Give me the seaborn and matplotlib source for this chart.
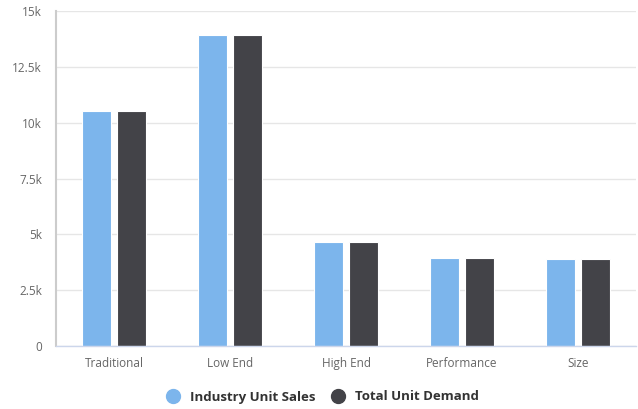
import matplotlib
matplotlib.use("Agg")
import matplotlib.pyplot as plt
import seaborn as sns
import pandas as pd
from matplotlib.lines import Line2D

categories = ["Traditional", "Low End", "High End", "Performance", "Size"]
industry_unit_sales = [10520, 13920, 4640, 3930, 3890]
total_unit_demand = [10520, 13920, 4640, 3930, 3890]
series_names = ["Industry Unit Sales", "Total Unit Demand"]
y_ticks = [0, 2500, 5000, 7500, 10000, 12500, 15000]
y_tick_labels = ["0", "2.5k", "5k", "7.5k", "10k", "12.5k", "15k"]

df = pd.DataFrame({
    "category": categories * 2,
    "value": industry_unit_sales + total_unit_demand,
    "series": [series_names[0]] * len(categories) + [series_names[1]] * len(categories),
})

sns.set_style("white")
plt.rcParams["font.family"] = ["Open Sans", "DejaVu Sans"]

colors = ["#7cb5ec", "#434348"]
fig = plt.figure(figsize=(6.38, 4.09), dpi=100)
ax = fig.add_axes([56 / 638, (409 - 346) / 409, (636 - 56) / 638, (346 - 11) / 409])

sns.barplot(data=df, x="category", y="value", hue="series", palette=colors,
            width=0.6, gap=0.15, ax=ax, legend=False, edgecolor="white", linewidth=0.8,
            saturation=1)

ax.set_xlim(-0.5, len(categories) - 0.5)
ax.set_ylim(0, 15000)
ax.set_yticks(y_ticks)
ax.set_yticklabels(y_tick_labels)
ax.set_xlabel("")
ax.set_ylabel("")
ax.grid(axis="y", color="#e6e6e6", linewidth=1)
ax.set_axisbelow(True)

for s in ["top", "right"]:
    ax.spines[s].set_visible(False)
ax.spines["left"].set_color("#cccccc")
ax.spines["left"].set_linewidth(1.5)
ax.spines["bottom"].set_color("#ccd6eb")
ax.spines["bottom"].set_linewidth(1)

ax.tick_params(axis="y", length=4, color="#cccccc", labelsize=8.5, labelcolor="#666666", pad=6)
ax.tick_params(axis="x", which="major", length=0, labelsize=8.5, labelcolor="#666666", pad=8)
ax.set_xticks([i + 0.5 for i in range(-1, len(categories))], minor=True)
ax.tick_params(axis="x", which="minor", length=9, color="#ccd6eb", width=1)

handles = [Line2D([0], [0], marker="o", linestyle="", markersize=10,
                  markerfacecolor=c, markeredgecolor=c) for c in colors]
leg = fig.legend(handles, series_names, loc="center", bbox_to_anchor=(0.5, (409 - 397) / 409),
                 ncol=2, frameon=False, handletextpad=0.3, columnspacing=0.7,
                 prop={"weight": "bold", "size": 9.5})
for t in leg.get_texts():
    t.set_color("#333333")

fig.savefig("out.png", dpi=100)
